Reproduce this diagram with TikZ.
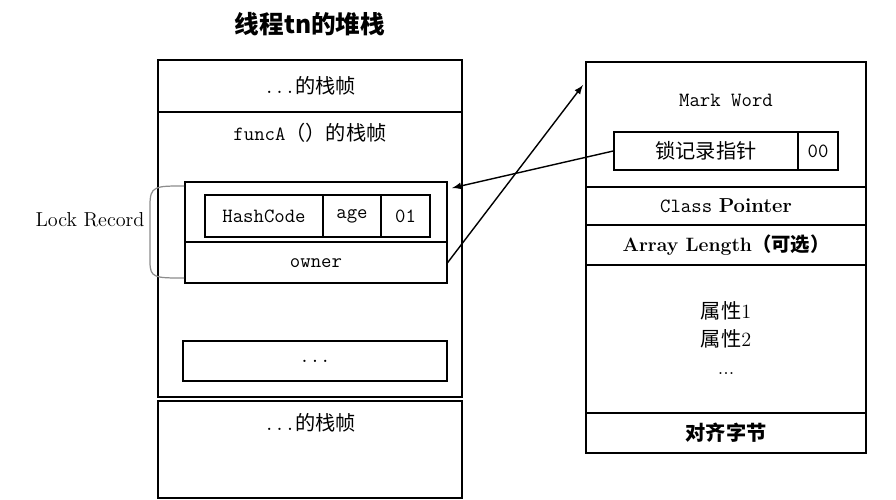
\documentclass[tikz,border=0pt]{standalone}
\usepackage{fontspec}
\newfontfamily\cjk{Noto Sans CJK SC}
\usetikzlibrary{arrows}

\begin{document}
\begin{tikzpicture}[
    x=.02cm,
    y=-.02cm,
    frame/.style={
      draw,
      line width=1pt,
      inner sep=0,
      minimum width=6.08cm,
    },
    cell/.style={
      draw,
      line width=.9pt,
      inner sep=0,
      font=\ttfamily\fontsize{11.5}{13}\selectfont,
    },
    label/.style={
      inner sep=0,
      font=\ttfamily\fontsize{11.5}{13}\selectfont,
    },
    link/.style={
      line width=.8pt,
      -latex,
    },
  ]
    \useasboundingbox (0,0) rectangle (896,500);
    \node[font=\cjk\bfseries\fontsize{14}{16}\selectfont] (title) at (310,24) {线程tn的堆栈};

    % thread stack
    \node[frame,minimum height=1.04cm] (topf) at (310,86) {};
    \node[label] at (topf) {...\cjk 的栈帧};
    \node[frame,minimum height=5.7cm] (funca) at (310,254.5) {};
    \node[label] (funcatext) at (310,133) {funcA\cjk（）的栈帧};
    \node[frame,minimum height=1.94cm] (botf) at (310,449.5) {};
    \node[label] at (310,423) {...\cjk 的栈帧};

    \node[cell,minimum width=5.24cm,minimum height=2.02cm] (lock) at (316,232.5) {};
    \draw[line width=.9pt] (185,242) -- (447,242);
    \node[label,minimum width=5.24cm,minimum height=.82cm] (owner) at (316,263) {owner};
    \node[cell,minimum width=2.36cm,minimum height=.84cm] (hash) at (264,216) {HashCode};
    \node[cell,minimum width=1.16cm,minimum height=.84cm] (age) at (352,216) {age};
    \node[cell,minimum width=.98cm,minimum height=.84cm] (bits) at (405.5,216) {01};
    \node[cell,minimum width=5.28cm,minimum height=.8cm] (dots) at (315,361) {...};

    \node[font=\fontsize{11.5}{13}\selectfont] (lrlabel) at (90,220) {Lock Record};
    \draw[black!45,line width=.7pt] (184,186) .. controls (155,186) and (150,186) .. (150,205)
      -- (150,262) .. controls (150,278) and (155,278) .. (184,278);

    % object header
    \node[frame,minimum width=5.6cm,minimum height=7.82cm] (obj) at (726,257.5) {};
    \foreach \y in {187,225,265,413}
      \draw[line width=1pt] (586,\y) -- (866,\y);
    \node[label] (mark) at (726,100) {Mark Word};
    \node[cell,minimum width=3.68cm,minimum height=.76cm,font=\cjk\fontsize{11.5}{13}\selectfont] (ptr) at (706,151) {锁记录指针};
    \node[cell,minimum width=.8cm,minimum height=.76cm] (flag) at (818,151) {00};
    \node[font=\fontsize{11.5}{13}\selectfont] (cls) at (726,206) {\texttt{Class} \textbf{Pointer}};
    \node[font=\bfseries\fontsize{11}{13}\selectfont] (arr) at (726,245) {Array Length\cjk（可选）};
    \node[label,align=center,font=\fontsize{11.5}{16}\selectfont] (fields) at (726,338)
      {{\cjk 属性}1\\{\cjk 属性}2\\...};
    \node[font=\cjk\bfseries\fontsize{11.5}{13}\selectfont] (pad) at (726,433) {对齐字节};

    \coordinate (lockin) at (452,188);
    \coordinate (objtop) at (583,85);
    \draw[link] (ptr.west) -- (lockin);
    \draw[link] (owner.east) -- (objtop);
  \end{tikzpicture}
\end{document}
